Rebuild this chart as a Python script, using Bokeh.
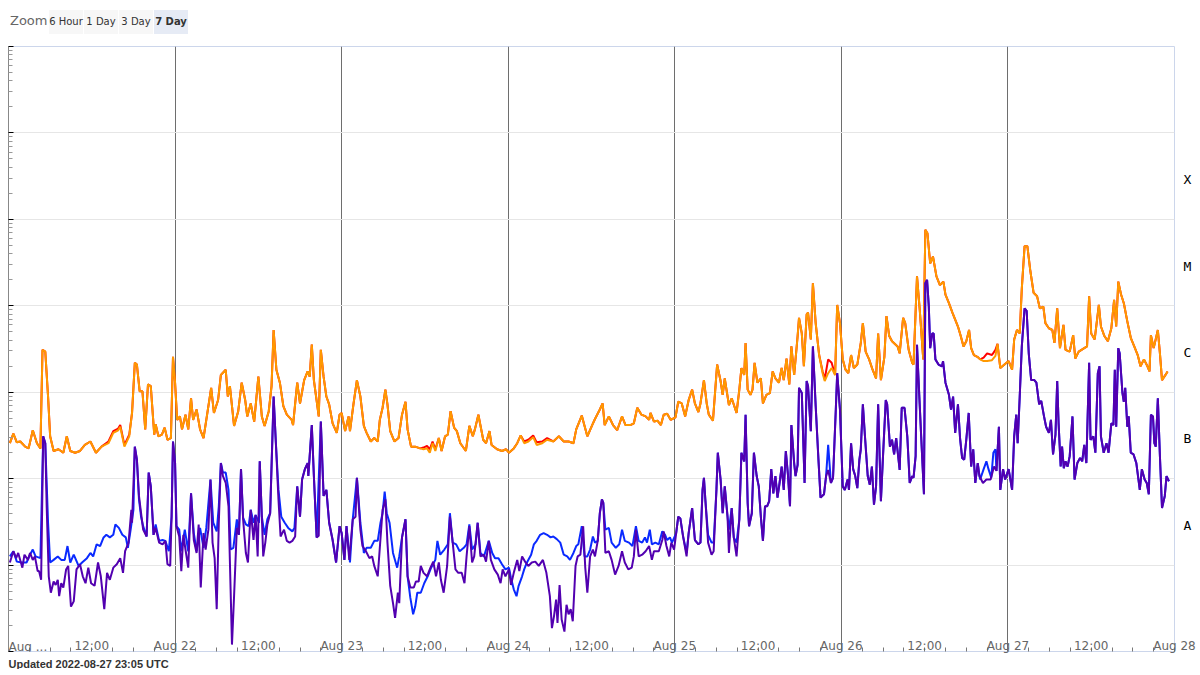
from bokeh.plotting import figure
from bokeh.models import Range1d, FixedTicker, Label, Div, CustomJSTickFormatter, Title, LogAxis
from bokeh.layouts import column
from bokeh.embed import file_html
from bokeh.resources import INLINE

# ---------------- data (hours since 2022-08-21 00:00 UTC, log10 flux W/m^2) -------------
long_primary = [
    (0.2, -6.59), (0.7, -6.48), (1.2, -6.58), (1.7, -6.57), (2.4, -6.63), (2.9, -6.65), (3.5, -6.44),
    (4.1, -6.59), (4.6, -6.65), (4.9, -5.51), (5.3, -5.53), (5.7, -6.05), (6.0, -6.51), (6.5, -6.68),
    (7.2, -6.66), (7.9, -6.70), (8.4, -6.51), (8.9, -6.68), (9.6, -6.70), (10.3, -6.68), (11.0, -6.61),
    (11.8, -6.57), (12.6, -6.70), (13.4, -6.63), (14.4, -6.59), (15.1, -6.47), (15.8, -6.44), (16.1, -6.40),
    (16.7, -6.63), (17.4, -6.51), (17.8, -6.24), (18.2, -5.66), (18.5, -5.68), (18.9, -5.99), (19.3, -5.99),
    (19.7, -6.43), (20.1, -5.91), (20.5, -5.93), (21.0, -6.49), (21.2, -6.37), (21.6, -6.51), (22.1, -6.49),
    (22.5, -6.41), (22.9, -6.55), (23.4, -6.53), (23.7, -5.59), (24.0, -5.89), (24.3, -6.32), (24.7, -6.28),
    (25.0, -6.43), (25.5, -6.26), (25.9, -6.43), (26.3, -6.07), (26.6, -6.32), (27.1, -6.20), (27.6, -6.43),
    (28.1, -6.53), (28.5, -6.32), (29.2, -5.95), (29.6, -6.24), (30.2, -6.09), (30.6, -5.80), (31.3, -5.74),
    (31.6, -6.05), (31.9, -5.93), (32.5, -6.39), (33.1, -6.22), (33.6, -5.89), (34.1, -6.09), (34.4, -6.28),
    (34.9, -6.13), (35.4, -6.34), (36.0, -5.82), (36.5, -6.28), (36.9, -6.39), (37.5, -6.22), (37.9, -5.93),
    (38.2, -5.28), (38.6, -5.74), (39.1, -5.89), (39.6, -6.16), (40.1, -6.26), (40.8, -6.32), (41.0, -6.38),
    (41.6, -5.89), (42.0, -6.13), (42.6, -5.86), (43.1, -5.76), (43.4, -5.82), (43.7, -5.45), (44.0, -5.86),
    (44.7, -6.28), (45.0, -5.51), (45.4, -5.82), (45.8, -6.05), (46.2, -6.14), (46.7, -6.36), (47.3, -6.47),
    (47.7, -6.26), (48.0, -6.24), (48.5, -6.45), (49.0, -6.28), (49.2, -6.45), (49.7, -6.14), (50.2, -5.86),
    (50.7, -6.05), (51.2, -6.39), (51.6, -6.47), (52.2, -6.57), (52.7, -6.53), (53.2, -6.57), (53.5, -6.32),
    (53.9, -6.18), (54.3, -5.97), (54.6, -6.14), (55.0, -6.45), (55.6, -6.57), (56.2, -6.53), (56.7, -6.26),
    (57.2, -6.11), (57.5, -6.43), (58.0, -6.63), (58.6, -6.63), (59.3, -6.65), (59.8, -6.66), (60.3, -6.65),
    (60.7, -6.70), (61.1, -6.59), (61.5, -6.68), (62.0, -6.53), (62.4, -6.68), (62.9, -6.51), (63.3, -6.49),
    (63.7, -6.22), (64.2, -6.41), (64.6, -6.45), (65.1, -6.59), (65.9, -6.68), (66.4, -6.39), (66.9, -6.51),
    (67.2, -6.43), (67.7, -6.26), (68.4, -6.55), (68.8, -6.59), (69.3, -6.45), (69.6, -6.61), (70.4, -6.66),
    (71.1, -6.68), (71.7, -6.66), (72.1, -6.70), (72.8, -6.65), (73.3, -6.59), (73.8, -6.50), (74.3, -6.59),
    (74.9, -6.57), (75.6, -6.52), (76.1, -6.61), (76.9, -6.59), (77.6, -6.55), (78.5, -6.57), (79.3, -6.51),
    (80.0, -6.57), (80.7, -6.57), (81.4, -6.59), (81.8, -6.43), (82.6, -6.27), (83.0, -6.39), (83.4, -6.51),
    (84.1, -6.38), (84.5, -6.31), (85.2, -6.20), (85.6, -6.13), (85.9, -6.38), (86.5, -6.28), (87.1, -6.38),
    (87.7, -6.44), (88.4, -6.28), (88.9, -6.38), (89.6, -6.38), (90.1, -6.36), (90.6, -6.18), (91.2, -6.26),
    (91.8, -6.28), (92.3, -6.32), (92.5, -6.24), (93.0, -6.34), (93.5, -6.33), (94.0, -6.38), (94.4, -6.26),
    (94.9, -6.25), (95.4, -6.32), (96.1, -6.29), (96.5, -6.11), (97.0, -6.13), (97.5, -6.28), (98.0, -6.09),
    (98.5, -5.97), (98.9, -6.13), (99.4, -6.23), (99.7, -6.13), (100.2, -5.86), (100.6, -6.13), (100.9, -6.26),
    (101.5, -6.33), (102.1, -5.68), (102.6, -5.87), (102.9, -6.03), (103.2, -5.84), (103.8, -6.15), (104.2, -6.07),
    (104.9, -6.24), (105.3, -5.97), (105.6, -5.72), (106.0, -5.80), (106.2, -5.43), (106.5, -5.97), (106.9, -6.03),
    (107.2, -5.97), (107.5, -5.66), (107.9, -5.89), (108.4, -5.84), (108.7, -6.13), (109.2, -6.03), (109.7, -6.01),
    (110.1, -5.76), (110.5, -5.84), (111.0, -5.89), (111.4, -5.72), (111.7, -5.86), (112.1, -5.61), (112.5, -5.91),
    (112.8, -5.47), (113.2, -5.80), (113.7, -5.35), (113.9, -5.14), (114.3, -5.32), (114.6, -5.70), (115.0, -5.10),
    (115.2, -5.08), (115.6, -5.39), (115.9, -4.74), (116.3, -5.20), (116.8, -5.57), (117.3, -5.78), (117.6, -5.87),
    (118.1, -5.78), (118.6, -5.72), (119.1, -5.80), (119.4, -4.99), (119.8, -5.20), (120.2, -5.62), (120.6, -5.74),
    (121.0, -5.78), (121.4, -5.57), (121.8, -5.72), (122.3, -5.68), (122.8, -5.43), (123.1, -5.20), (123.5, -5.53),
    (124.0, -5.62), (124.5, -5.74), (125.0, -5.84), (125.3, -5.32), (125.7, -5.86), (126.2, -5.59), (126.5, -5.12),
    (126.9, -5.35), (127.3, -5.41), (128.1, -5.47), (128.4, -5.55), (128.9, -5.14), (129.2, -5.20), (129.7, -5.51),
    (130.2, -5.66), (130.4, -5.68), (130.9, -4.66), (131.3, -5.05), (131.8, -5.62), (132.1, -4.12), (132.4, -4.16),
    (132.8, -4.51), (133.2, -4.43), (133.7, -4.66), (134.2, -4.76), (134.7, -4.72), (135.0, -4.87), (135.5, -4.97),
    (136.0, -5.08), (136.3, -5.14), (136.8, -5.24), (137.2, -5.35), (137.6, -5.47), (138.0, -5.41), (138.4, -5.28),
    (138.7, -5.49), (139.1, -5.57), (139.6, -5.59), (140.0, -5.62), (140.5, -5.64), (141.0, -5.64), (141.7, -5.63),
    (142.2, -5.58), (142.5, -5.44), (142.9, -5.72), (143.5, -5.68), (144.1, -5.64), (144.6, -5.74), (144.9, -5.39),
    (145.3, -5.28), (145.7, -5.32), (146.0, -4.80), (146.4, -4.31), (146.8, -4.31), (147.2, -4.58), (147.7, -4.85),
    (148.2, -4.89), (148.6, -5.03), (149.1, -5.01), (149.4, -5.20), (149.9, -5.26), (150.4, -5.28), (150.7, -5.43),
    (151.1, -5.03), (151.5, -5.49), (152.0, -5.22), (152.3, -5.51), (152.9, -5.53), (153.4, -5.34), (153.7, -5.61),
    (154.2, -5.53), (155.0, -5.49), (155.4, -5.47), (155.7, -4.89), (156.0, -5.32), (156.5, -5.39), (157.1, -4.99),
    (157.4, -5.24), (157.9, -5.35), (158.4, -5.41), (158.9, -5.26), (159.3, -4.93), (159.6, -5.24), (159.9, -4.72),
    (160.3, -4.87), (160.7, -4.97), (161.2, -5.18), (161.7, -5.37), (162.2, -5.47), (162.7, -5.57), (163.1, -5.70),
    (163.6, -5.62), (164.1, -5.70), (164.4, -5.76), (164.6, -5.34), (165.0, -5.49), (165.6, -5.28), (165.9, -5.55),
    (166.2, -5.86), (166.7, -5.80), (167.0, -5.76),
]

long_secondary = [
    (0.2, -6.59), (0.7, -6.48), (1.2, -6.58), (1.7, -6.57), (2.4, -6.63), (2.9, -6.65), (3.5, -6.44),
    (4.1, -6.59), (4.6, -6.65), (4.9, -5.51), (5.3, -5.53), (5.7, -6.05), (6.0, -6.51), (6.5, -6.68),
    (7.2, -6.66), (7.9, -6.70), (8.4, -6.51), (8.9, -6.68), (9.6, -6.70), (10.3, -6.68), (11.0, -6.61),
    (11.8, -6.57), (12.6, -6.70), (13.4, -6.63), (14.4, -6.57), (15.1, -6.45), (15.8, -6.42), (16.1, -6.38),
    (16.7, -6.61), (17.4, -6.49), (17.8, -6.24), (18.2, -5.66), (18.5, -5.68), (18.9, -5.99), (19.3, -5.99),
    (19.7, -6.43), (20.1, -5.91), (20.5, -5.93), (21.0, -6.49), (21.2, -6.37), (21.6, -6.51), (22.1, -6.49),
    (22.5, -6.41), (22.9, -6.55), (23.4, -6.53), (23.7, -5.59), (24.0, -5.89), (24.3, -6.32), (24.7, -6.28),
    (25.0, -6.43), (25.5, -6.26), (25.9, -6.43), (26.3, -6.07), (26.6, -6.32), (27.1, -6.20), (27.6, -6.43),
    (28.1, -6.53), (28.5, -6.32), (29.2, -5.95), (29.6, -6.24), (30.2, -6.09), (30.6, -5.80), (31.3, -5.74),
    (31.6, -6.05), (31.9, -5.93), (32.5, -6.39), (33.1, -6.22), (33.6, -5.89), (34.1, -6.09), (34.4, -6.28),
    (34.9, -6.13), (35.4, -6.34), (36.0, -5.82), (36.5, -6.28), (36.9, -6.39), (37.5, -6.22), (37.9, -5.93),
    (38.2, -5.28), (38.6, -5.74), (39.1, -5.89), (39.6, -6.16), (40.1, -6.26), (40.8, -6.32), (41.0, -6.38),
    (41.6, -5.89), (42.0, -6.13), (42.6, -5.86), (43.1, -5.76), (43.4, -5.82), (43.7, -5.45), (44.0, -5.86),
    (44.7, -6.28), (45.0, -5.51), (45.4, -5.82), (45.8, -6.05), (46.2, -6.14), (46.7, -6.36), (47.3, -6.47),
    (47.7, -6.26), (48.0, -6.24), (48.5, -6.45), (49.0, -6.28), (49.2, -6.45), (49.7, -6.14), (50.2, -5.86),
    (50.7, -6.05), (51.2, -6.39), (51.6, -6.47), (52.2, -6.57), (52.7, -6.53), (53.2, -6.57), (53.5, -6.32),
    (53.9, -6.18), (54.3, -5.97), (54.6, -6.14), (55.0, -6.45), (55.6, -6.57), (56.2, -6.53), (56.7, -6.26),
    (57.2, -6.11), (57.5, -6.43), (58.0, -6.63), (58.6, -6.63), (59.3, -6.65), (59.8, -6.64), (60.3, -6.62),
    (60.7, -6.66), (61.1, -6.57), (61.5, -6.66), (62.0, -6.53), (62.4, -6.68), (62.9, -6.51), (63.3, -6.49),
    (63.7, -6.22), (64.2, -6.41), (64.6, -6.45), (65.1, -6.59), (65.9, -6.68), (66.4, -6.39), (66.9, -6.51),
    (67.2, -6.43), (67.7, -6.26), (68.4, -6.55), (68.8, -6.59), (69.3, -6.45), (69.6, -6.61), (70.4, -6.66),
    (71.1, -6.68), (71.7, -6.66), (72.1, -6.70), (72.8, -6.65), (73.3, -6.59), (73.8, -6.50), (74.3, -6.57),
    (74.9, -6.55), (75.6, -6.50), (76.1, -6.58), (76.9, -6.57), (77.6, -6.53), (78.5, -6.57), (79.3, -6.51),
    (80.0, -6.57), (80.7, -6.57), (81.4, -6.59), (81.8, -6.43), (82.6, -6.27), (83.0, -6.39), (83.4, -6.51),
    (84.1, -6.38), (84.5, -6.31), (85.2, -6.20), (85.6, -6.13), (85.9, -6.38), (86.5, -6.28), (87.1, -6.38),
    (87.7, -6.44), (88.4, -6.28), (88.9, -6.38), (89.6, -6.38), (90.1, -6.36), (90.6, -6.18), (91.2, -6.26),
    (91.8, -6.28), (92.3, -6.32), (92.5, -6.24), (93.0, -6.34), (93.5, -6.33), (94.0, -6.38), (94.4, -6.26),
    (94.9, -6.25), (95.4, -6.32), (96.1, -6.29), (96.5, -6.11), (97.0, -6.13), (97.5, -6.28), (98.0, -6.09),
    (98.5, -5.97), (98.9, -6.13), (99.4, -6.23), (99.7, -6.13), (100.2, -5.86), (100.6, -6.13), (100.9, -6.26),
    (101.5, -6.33), (102.1, -5.68), (102.6, -5.87), (102.9, -6.03), (103.2, -5.84), (103.8, -6.15), (104.2, -6.07),
    (104.9, -6.24), (105.3, -5.97), (105.6, -5.72), (106.0, -5.80), (106.2, -5.43), (106.5, -5.97), (106.9, -6.03),
    (107.2, -5.97), (107.5, -5.66), (107.9, -5.89), (108.4, -5.84), (108.7, -6.13), (109.2, -6.03), (109.7, -6.01),
    (110.1, -5.76), (110.5, -5.84), (111.0, -5.89), (111.4, -5.72), (111.7, -5.86), (112.1, -5.61), (112.5, -5.91),
    (112.8, -5.47), (113.2, -5.80), (113.7, -5.35), (113.9, -5.14), (114.3, -5.32), (114.6, -5.70), (115.0, -5.10),
    (115.2, -5.08), (115.6, -5.39), (115.9, -4.74), (116.3, -5.20), (116.8, -5.57), (117.3, -5.76), (117.6, -5.85),
    (118.1, -5.62), (118.6, -5.66), (119.1, -5.80), (119.4, -4.99), (119.8, -5.20), (120.2, -5.62), (120.6, -5.74),
    (121.0, -5.78), (121.4, -5.57), (121.8, -5.72), (122.3, -5.68), (122.8, -5.43), (123.1, -5.20), (123.5, -5.53),
    (124.0, -5.62), (124.5, -5.74), (125.0, -5.84), (125.3, -5.32), (125.7, -5.86), (126.2, -5.59), (126.5, -5.12),
    (126.9, -5.35), (127.3, -5.41), (128.1, -5.47), (128.4, -5.55), (128.9, -5.14), (129.2, -5.20), (129.7, -5.51),
    (130.2, -5.66), (130.4, -5.68), (130.9, -4.66), (131.3, -5.05), (131.8, -5.62), (132.1, -4.12), (132.4, -4.16),
    (132.8, -4.51), (133.2, -4.43), (133.7, -4.66), (134.2, -4.76), (134.7, -4.72), (135.0, -4.87), (135.5, -4.97),
    (136.0, -5.08), (136.3, -5.14), (136.8, -5.24), (137.2, -5.35), (137.6, -5.47), (138.0, -5.41), (138.4, -5.28),
    (138.7, -5.49), (139.1, -5.57), (139.6, -5.59), (140.0, -5.62), (140.5, -5.60), (141.0, -5.55), (141.7, -5.57),
    (142.2, -5.51), (142.5, -5.44), (142.9, -5.72), (143.5, -5.68), (144.1, -5.64), (144.6, -5.74), (144.9, -5.39),
    (145.3, -5.28), (145.7, -5.32), (146.0, -4.80), (146.4, -4.31), (146.8, -4.31), (147.2, -4.58), (147.7, -4.85),
    (148.2, -4.89), (148.6, -5.03), (149.1, -5.01), (149.4, -5.20), (149.9, -5.26), (150.4, -5.28), (150.7, -5.43),
    (151.1, -5.03), (151.5, -5.49), (152.0, -5.22), (152.3, -5.51), (152.9, -5.53), (153.4, -5.34), (153.7, -5.61),
    (154.2, -5.53), (155.0, -5.49), (155.4, -5.47), (155.7, -4.89), (156.0, -5.32), (156.5, -5.39), (157.1, -4.99),
    (157.4, -5.24), (157.9, -5.35), (158.4, -5.41), (158.9, -5.26), (159.3, -4.93), (159.6, -5.24), (159.9, -4.72),
    (160.3, -4.87), (160.7, -4.97), (161.2, -5.18), (161.7, -5.37), (162.2, -5.47), (162.7, -5.57), (163.1, -5.70),
    (163.6, -5.62), (164.1, -5.70), (164.4, -5.76), (164.6, -5.34), (165.0, -5.49), (165.6, -5.28), (165.9, -5.55),
    (166.2, -5.86), (166.7, -5.80), (167.0, -5.76),
]

short_primary = [
    (0.2, -7.97), (0.7, -7.84), (1.1, -7.92), (1.4, -7.86), (2.0, -8.03), (2.3, -7.88), (2.8, -7.94),
    (3.1, -7.86), (3.5, -7.94), (3.8, -7.90), (4.2, -8.07), (4.4, -8.07), (4.7, -8.17), (5.0, -6.51),
    (5.3, -6.59), (5.5, -7.32), (5.8, -8.13), (6.1, -8.32), (6.5, -8.19), (6.8, -8.23), (7.1, -8.17),
    (7.3, -8.36), (7.6, -8.21), (7.9, -8.26), (8.3, -8.05), (8.6, -8.01), (9.0, -8.48), (9.4, -8.42),
    (9.8, -8.05), (10.3, -7.99), (10.7, -8.13), (11.1, -8.21), (11.5, -8.03), (11.9, -8.21), (12.4, -8.24),
    (12.9, -7.97), (13.3, -8.13), (13.8, -8.51), (14.2, -8.09), (14.6, -8.17), (15.1, -8.03), (15.6, -7.99),
    (16.1, -7.92), (16.5, -8.09), (16.8, -7.84), (17.3, -7.74), (17.7, -7.36), (17.8, -7.51), (18.2, -6.63),
    (18.5, -6.78), (18.8, -7.20), (19.1, -7.40), (19.4, -7.59), (19.9, -7.67), (20.2, -6.93), (20.5, -7.09),
    (20.9, -7.65), (21.2, -7.57), (21.7, -7.74), (22.2, -7.76), (22.6, -7.72), (22.9, -7.99), (23.3, -8.01),
    (23.5, -7.44), (23.7, -6.57), (24.0, -6.82), (24.2, -7.55), (24.6, -7.67), (24.9, -8.07), (25.2, -7.65),
    (25.5, -7.82), (25.9, -8.03), (26.3, -7.17), (26.7, -7.71), (27.1, -7.86), (27.4, -7.53), (27.7, -8.26),
    (28.1, -7.63), (28.4, -7.82), (28.8, -7.59), (29.1, -7.01), (29.4, -7.74), (29.7, -7.92), (30.0, -8.51),
    (30.3, -7.51), (30.6, -6.82), (30.9, -6.97), (31.3, -7.05), (31.7, -7.32), (32.0, -8.28), (32.2, -8.92),
    (32.5, -8.36), (32.9, -7.57), (33.2, -7.65), (33.5, -6.89), (33.8, -7.47), (34.2, -7.86), (34.5, -7.97),
    (34.9, -7.36), (35.3, -7.71), (35.6, -7.42), (35.9, -7.90), (36.2, -6.80), (36.5, -7.44), (36.7, -7.90),
    (37.0, -7.74), (37.3, -7.53), (37.7, -7.40), (38.0, -6.59), (38.2, -6.05), (38.5, -6.55), (38.9, -7.24),
    (39.2, -7.67), (39.7, -7.59), (40.1, -7.72), (40.5, -7.74), (40.9, -7.72), (41.3, -7.67), (41.6, -7.09),
    (42.0, -7.44), (42.3, -7.01), (42.7, -6.89), (43.1, -6.82), (43.2, -6.97), (43.7, -6.38), (44.0, -6.97),
    (44.4, -7.68), (44.7, -7.66), (45.0, -6.34), (45.4, -7.20), (45.8, -7.13), (46.2, -7.51), (46.7, -7.71),
    (47.2, -7.97), (47.7, -7.55), (48.0, -7.63), (48.4, -7.94), (48.7, -7.55), (49.1, -7.94), (49.6, -7.47),
    (50.0, -7.44), (50.2, -6.99), (50.7, -7.59), (51.0, -7.78), (51.5, -7.84), (52.0, -7.92), (52.4, -7.90),
    (52.7, -8.01), (53.2, -8.13), (53.5, -7.80), (53.9, -7.36), (54.3, -7.24), (54.6, -7.74), (55.0, -8.24),
    (55.4, -8.44), (55.7, -8.61), (56.1, -8.32), (56.3, -8.44), (56.7, -7.68), (57.2, -7.47), (57.5, -8.13),
    (57.9, -8.26), (58.4, -8.26), (58.7, -8.19), (59.1, -8.19), (59.4, -8.01), (59.8, -8.09), (60.3, -8.13),
    (60.8, -8.03), (61.2, -7.96), (61.6, -8.13), (62.0, -7.97), (62.3, -8.17), (62.7, -8.32), (63.2, -8.01),
    (63.6, -7.44), (64.0, -7.74), (64.4, -8.05), (64.8, -8.09), (65.3, -8.09), (65.7, -8.21), (66.0, -7.90),
    (66.4, -7.55), (66.8, -7.97), (67.1, -7.90), (67.6, -7.51), (68.0, -7.90), (68.5, -7.88), (68.8, -7.96),
    (69.2, -7.72), (69.5, -7.94), (70.0, -8.05), (70.5, -8.11), (70.9, -8.21), (71.2, -8.05), (71.6, -8.13),
    (72.1, -8.05), (72.4, -8.23), (72.8, -8.09), (73.3, -7.94), (73.6, -8.07), (74.0, -7.90), (74.5, -7.97),
    (74.9, -8.01), (75.4, -7.97), (75.9, -7.96), (76.4, -8.01), (77.0, -7.94), (77.5, -8.09), (78.0, -8.36),
    (78.3, -8.73), (78.6, -8.59), (78.9, -8.40), (79.1, -8.67), (79.4, -8.23), (79.7, -8.63), (80.1, -8.77),
    (80.4, -8.46), (80.7, -8.57), (81.0, -8.51), (81.3, -8.65), (81.7, -8.01), (82.0, -7.90), (82.4, -7.88),
    (82.8, -7.55), (83.1, -8.03), (83.4, -8.32), (83.8, -7.90), (84.2, -7.82), (84.5, -7.90), (84.9, -7.72),
    (85.2, -7.40), (85.5, -7.24), (85.7, -7.28), (86.0, -7.86), (86.5, -7.84), (86.9, -7.94), (87.4, -8.11),
    (87.9, -8.01), (88.4, -7.84), (88.8, -7.97), (89.3, -8.05), (89.8, -8.03), (90.1, -7.90), (90.4, -7.59),
    (90.8, -7.90), (91.3, -7.88), (91.8, -7.84), (92.3, -7.78), (92.7, -7.94), (93.0, -7.84), (93.7, -7.84),
    (94.2, -7.71), (94.4, -7.61), (94.8, -7.78), (95.2, -7.90), (95.5, -7.74), (95.9, -7.82), (96.2, -7.63),
    (96.5, -7.44), (96.8, -7.46), (97.2, -7.67), (97.7, -7.90), (98.0, -7.63), (98.5, -7.34), (98.9, -7.71),
    (99.4, -7.76), (99.7, -7.74), (100.0, -7.13), (100.2, -6.99), (100.4, -7.24), (100.8, -7.74), (101.3, -7.88),
    (101.6, -7.84), (102.0, -7.13), (102.2, -6.70), (102.6, -7.01), (102.9, -7.40), (103.2, -7.09), (103.6, -7.44),
    (103.8, -7.86), (104.2, -7.34), (104.5, -7.68), (104.9, -7.90), (105.3, -7.47), (105.6, -6.70), (106.0, -6.80),
    (106.2, -6.26), (106.5, -7.28), (106.7, -7.55), (107.1, -7.40), (107.4, -6.70), (107.8, -6.97), (108.1, -7.09),
    (108.4, -7.44), (108.7, -7.72), (109.0, -7.32), (109.3, -7.32), (109.6, -7.26), (109.9, -6.89), (110.2, -7.17),
    (110.5, -6.97), (110.8, -7.22), (111.1, -7.05), (111.4, -6.86), (111.7, -7.13), (112.0, -6.68), (112.3, -6.95),
    (112.6, -7.32), (112.8, -6.38), (113.2, -6.82), (113.4, -6.97), (113.7, -6.84), (113.9, -5.95), (114.3, -6.01),
    (114.7, -7.05), (115.0, -5.87), (115.2, -5.93), (115.6, -6.45), (115.9, -5.47), (116.3, -6.16), (116.7, -6.78),
    (117.0, -7.22), (117.5, -7.18), (117.8, -6.97), (118.1, -6.90), (118.5, -7.05), (118.8, -6.99), (119.2, -6.20),
    (119.4, -5.78), (119.8, -6.20), (120.2, -7.09), (120.5, -7.13), (120.9, -7.01), (121.1, -7.13), (121.4, -6.59),
    (121.7, -6.89), (122.0, -6.97), (122.3, -7.11), (122.6, -6.78), (122.8, -6.66), (123.1, -6.14), (123.4, -6.51),
    (123.8, -6.97), (124.1, -7.07), (124.4, -6.86), (124.7, -7.30), (125.0, -7.09), (125.3, -6.14), (125.7, -7.26),
    (126.0, -6.74), (126.4, -6.09), (126.6, -6.14), (127.0, -6.63), (127.3, -6.55), (127.6, -6.72), (127.9, -6.53),
    (128.4, -6.90), (128.7, -6.18), (129.1, -6.18), (129.5, -6.51), (129.85, -7.05), (130.2, -6.97), (130.4, -6.99),
    (130.7, -6.74), (130.9, -5.45), (131.1, -5.82), (131.5, -6.51), (131.9, -7.18), (132.1, -4.74), (132.35, -4.70),
    (132.6, -5.01), (132.8, -5.49), (133.1, -5.32), (133.3, -5.32), (133.55, -5.62), (134.0, -5.68), (134.5, -5.70),
    (134.65, -5.64), (135.0, -5.89), (135.5, -6.03), (135.8, -6.20), (136.1, -6.05), (136.4, -6.47), (136.8, -6.14),
    (137.1, -6.53), (137.4, -6.76), (137.7, -6.78), (138.0, -6.55), (138.35, -6.24), (138.7, -6.86), (139.0, -6.66),
    (139.3, -7.05), (139.65, -6.82), (139.9, -6.97), (140.4, -7.05), (140.9, -7.01), (141.5, -7.01), (142.0, -6.86),
    (142.35, -6.91), (142.7, -6.40), (142.9, -7.13), (143.3, -6.89), (143.6, -7.01), (144.1, -6.89), (144.6, -7.13),
    (144.9, -6.51), (145.2, -6.26), (145.4, -6.59), (145.7, -6.05), (146.0, -5.47), (146.4, -5.03), (146.7, -5.06),
    (147.0, -5.55), (147.35, -5.86), (147.8, -5.86), (148.1, -5.89), (148.5, -6.14), (148.8, -6.10), (149.2, -6.28),
    (149.5, -6.40), (149.9, -6.47), (150.2, -6.32), (150.5, -6.72), (150.85, -6.49), (151.1, -5.87), (151.3, -6.36),
    (151.6, -6.86), (151.8, -6.63), (152.05, -6.88), (152.3, -6.80), (152.6, -6.86), (152.9, -6.74), (153.3, -6.28),
    (153.6, -7.01), (154.0, -6.82), (154.4, -6.76), (154.7, -6.80), (155.0, -6.61), (155.3, -6.82), (155.7, -5.66),
    (155.9, -6.55), (156.3, -6.51), (156.6, -6.70), (156.95, -5.78), (157.2, -5.70), (157.4, -6.51), (157.8, -6.70),
    (158.2, -6.59), (158.5, -6.70), (158.9, -6.36), (159.2, -6.38), (159.4, -5.74), (159.6, -6.40), (159.9, -5.49),
    (160.1, -5.55), (160.5, -6.01), (160.7, -6.11), (160.9, -5.95), (161.2, -6.40), (161.4, -6.28), (161.7, -6.70),
    (162.1, -6.72), (162.5, -6.82), (163.0, -7.13), (163.3, -6.89), (163.7, -7.01), (164.0, -7.05), (164.3, -7.18),
    (164.6, -6.26), (164.9, -6.28), (165.1, -6.59), (165.3, -6.63), (165.6, -6.07), (165.9, -6.74), (166.2, -7.34),
    (166.6, -7.20), (166.85, -6.97), (167.2, -7.03),
]

short_secondary = [
    (0.2, -7.90), (0.7, -7.84), (1.2, -7.96), (1.9, -7.97), (2.6, -7.97), (3.1, -7.88), (3.5, -7.82),
    (3.9, -7.90), (4.6, -7.92), (5.0, -6.51), (5.3, -6.59), (5.7, -7.51), (6.0, -7.97), (6.5, -7.94),
    (7.1, -7.90), (7.6, -7.94), (8.1, -7.94), (8.5, -7.78), (8.9, -7.97), (9.4, -7.88), (10.1, -8.01),
    (10.6, -7.97), (11.3, -7.92), (11.8, -7.86), (12.2, -7.90), (12.7, -7.76), (13.2, -7.78), (13.7, -7.68),
    (14.1, -7.65), (14.6, -7.68), (15.1, -7.65), (15.4, -7.53), (15.9, -7.57), (16.4, -7.65), (16.9, -7.68),
    (17.2, -7.80), (17.6, -7.59), (18.0, -7.36), (18.2, -6.63), (18.5, -6.78), (18.8, -7.24), (19.1, -7.44),
    (19.4, -7.55), (19.9, -7.67), (20.2, -6.93), (20.5, -7.09), (20.9, -7.65), (21.2, -7.53), (21.7, -7.72),
    (22.2, -7.71), (22.6, -7.72), (23.1, -7.84), (23.5, -7.44), (23.7, -6.57), (24.0, -6.82), (24.2, -7.55),
    (24.6, -7.59), (24.9, -7.84), (25.4, -7.59), (25.9, -7.84), (26.3, -7.17), (26.7, -7.63), (27.1, -7.84),
    (27.6, -7.57), (28.1, -7.80), (28.5, -7.57), (29.1, -7.01), (29.5, -7.51), (30.0, -7.61), (30.3, -7.32),
    (30.6, -6.82), (30.9, -6.93), (31.3, -6.93), (31.7, -7.13), (32.0, -7.82), (32.4, -7.80), (32.9, -7.47),
    (33.2, -7.65), (33.5, -6.89), (33.8, -7.45), (34.2, -7.53), (34.6, -7.55), (34.9, -7.36), (35.3, -7.51),
    (35.6, -7.42), (36.1, -7.51), (36.2, -6.80), (36.5, -7.44), (36.9, -7.65), (37.3, -7.47), (37.7, -7.40),
    (38.0, -6.59), (38.2, -6.05), (38.5, -6.55), (38.9, -7.13), (39.3, -7.44), (39.8, -7.51), (40.3, -7.57),
    (40.9, -7.61), (41.2, -7.57), (41.6, -7.09), (42.0, -7.44), (42.3, -7.01), (42.7, -6.89), (43.1, -6.82),
    (43.2, -6.97), (43.7, -6.38), (44.0, -6.97), (44.4, -7.68), (45.0, -6.34), (45.4, -7.20), (45.8, -7.13),
    (46.2, -7.51), (46.7, -7.71), (47.2, -7.97), (47.7, -7.55), (48.0, -7.63), (48.4, -7.94), (48.7, -7.55),
    (49.2, -7.97), (49.6, -7.47), (50.2, -6.99), (50.7, -7.51), (51.2, -7.86), (51.6, -7.80), (52.2, -7.80),
    (52.7, -7.72), (53.2, -7.72), (53.6, -7.51), (53.9, -7.40), (54.2, -7.15), (54.5, -7.40), (54.9, -7.51),
    (55.4, -7.86), (56.0, -8.03), (56.3, -7.90), (56.7, -7.68), (57.2, -7.47), (57.5, -8.13), (57.9, -8.38),
    (58.3, -8.57), (58.6, -8.48), (58.9, -8.32), (59.4, -8.32), (59.9, -8.21), (60.4, -8.13), (60.9, -8.03),
    (61.5, -7.94), (61.8, -7.72), (62.2, -7.88), (62.8, -7.82), (63.3, -7.76), (63.6, -7.40), (64.0, -7.74),
    (64.5, -7.76), (65.0, -7.84), (65.6, -7.80), (66.0, -7.76), (66.4, -7.53), (66.8, -7.82), (67.3, -7.76),
    (67.6, -7.51), (68.0, -7.86), (68.5, -7.90), (69.2, -7.72), (69.7, -7.86), (70.1, -7.92), (70.6, -7.92),
    (71.1, -7.99), (71.6, -8.05), (72.1, -8.03), (72.4, -8.15), (72.8, -8.28), (73.2, -8.36), (73.5, -8.24),
    (74.0, -8.13), (74.3, -8.05), (74.7, -7.97), (75.3, -7.88), (75.7, -7.76), (76.1, -7.72), (76.6, -7.65),
    (77.1, -7.63), (77.6, -7.65), (78.1, -7.68), (78.5, -7.67), (79.0, -7.70), (79.5, -7.74), (80.0, -7.88),
    (80.5, -7.90), (80.9, -7.94), (81.4, -7.86), (81.8, -7.78), (82.1, -7.76), (82.6, -7.55), (83.0, -7.90),
    (83.4, -7.90), (83.8, -7.82), (84.2, -7.67), (84.5, -7.74), (84.9, -7.72), (85.2, -7.40), (85.5, -7.24),
    (85.7, -7.28), (86.0, -7.59), (86.5, -7.57), (86.9, -7.74), (87.5, -7.80), (88.0, -7.76), (88.4, -7.59),
    (88.8, -7.72), (89.4, -7.74), (89.9, -7.78), (90.4, -7.55), (90.8, -7.72), (91.3, -7.74), (91.7, -7.68),
    (92.0, -7.74), (92.4, -7.59), (92.7, -7.76), (93.2, -7.74), (93.7, -7.76), (94.2, -7.61), (94.6, -7.65),
    (94.9, -7.71), (95.3, -7.68), (95.6, -7.74), (96.2, -7.63), (96.5, -7.44), (96.8, -7.46), (97.2, -7.67),
    (97.7, -7.86), (98.0, -7.63), (98.5, -7.34), (98.9, -7.71), (99.4, -7.76), (99.7, -7.74), (100.0, -7.13),
    (100.2, -6.99), (100.4, -7.24), (100.8, -7.65), (101.3, -7.74), (101.6, -7.74), (102.0, -7.13), (102.2, -6.70),
    (102.6, -7.01), (102.9, -7.40), (103.2, -7.09), (103.6, -7.44), (103.8, -7.59), (104.2, -7.34), (104.5, -7.68),
    (104.9, -7.74), (105.3, -7.47), (105.6, -6.70), (106.0, -6.80), (106.2, -6.26), (106.5, -7.28), (106.7, -7.55),
    (107.1, -7.40), (107.4, -6.70), (107.8, -6.97), (108.1, -7.09), (108.4, -7.44), (108.7, -7.72), (109.0, -7.32),
    (109.3, -7.32), (109.6, -7.26), (109.9, -6.89), (110.2, -7.17), (110.5, -6.97), (110.8, -7.22), (111.1, -7.05),
    (111.4, -6.86), (111.7, -7.13), (112.0, -6.68), (112.3, -6.95), (112.6, -7.32), (112.8, -6.38), (113.2, -6.82),
    (113.4, -6.97), (113.7, -6.84), (113.9, -5.95), (114.3, -6.01), (114.7, -7.05), (115.0, -5.87), (115.2, -5.93),
    (115.6, -6.45), (115.9, -5.47), (116.3, -6.16), (116.7, -6.78), (117.0, -7.22), (117.5, -7.18), (117.8, -6.97),
    (118.1, -6.61), (118.5, -7.05), (118.8, -6.99), (119.2, -6.20), (119.4, -5.78), (119.8, -6.20), (120.2, -7.09),
    (120.5, -7.13), (120.9, -7.01), (121.1, -7.13), (121.4, -6.59), (121.7, -6.89), (122.0, -6.97), (122.3, -7.11),
    (122.6, -6.78), (122.8, -6.66), (123.1, -6.14), (123.4, -6.51), (123.8, -6.97), (124.1, -7.07), (124.4, -6.86),
    (124.7, -7.30), (125.0, -7.09), (125.3, -6.14), (125.7, -7.26), (126.0, -6.74), (126.4, -6.09), (126.6, -6.14),
    (127.0, -6.63), (127.3, -6.55), (127.6, -6.72), (127.9, -6.53), (128.4, -6.90), (128.7, -6.18), (129.1, -6.18),
    (129.5, -6.51), (129.85, -7.05), (130.2, -6.97), (130.4, -6.99), (130.7, -6.74), (130.9, -5.45), (131.1, -5.82),
    (131.5, -6.51), (131.9, -7.18), (132.1, -4.74), (132.35, -4.70), (132.6, -5.01), (132.8, -5.49), (133.1, -5.32),
    (133.3, -5.32), (133.55, -5.62), (134.0, -5.68), (134.5, -5.70), (134.65, -5.64), (135.0, -5.89), (135.5, -6.03),
    (135.8, -6.20), (136.1, -6.05), (136.4, -6.47), (136.8, -6.14), (137.1, -6.53), (137.4, -6.76), (137.7, -6.78),
    (138.0, -6.55), (138.35, -6.24), (138.7, -6.86), (139.0, -6.66), (139.3, -7.05), (139.65, -6.82), (139.9, -6.97),
    (140.0, -7.01), (140.5, -6.89), (140.9, -6.80), (141.2, -6.89), (141.6, -6.99), (141.9, -6.70), (142.2, -6.66),
    (142.35, -6.91), (142.7, -6.40), (142.9, -7.13), (143.3, -6.89), (143.6, -7.01), (144.1, -6.89), (144.6, -7.13),
    (144.9, -6.51), (145.2, -6.26), (145.4, -6.59), (145.7, -6.05), (146.0, -5.47), (146.4, -5.03), (146.7, -5.06),
    (147.0, -5.55), (147.35, -5.86), (147.8, -5.86), (148.1, -5.89), (148.5, -6.14), (148.8, -6.10), (149.2, -6.28),
    (149.5, -6.40), (149.9, -6.47), (150.2, -6.32), (150.5, -6.72), (150.85, -6.49), (151.1, -5.87), (151.3, -6.36),
    (151.6, -6.86), (151.8, -6.63), (152.05, -6.88), (152.3, -6.80), (152.6, -6.86), (152.9, -6.74), (153.3, -6.28),
    (153.6, -7.01), (154.0, -6.82), (154.4, -6.76), (154.7, -6.80), (155.0, -6.61), (155.3, -6.82), (155.7, -5.66),
    (155.9, -6.55), (156.3, -6.51), (156.6, -6.70), (156.95, -5.78), (157.2, -5.70), (157.4, -6.51), (157.8, -6.70),
    (158.2, -6.59), (158.5, -6.70), (158.9, -6.36), (159.2, -6.38), (159.4, -5.74), (159.6, -6.40), (159.9, -5.49),
    (160.1, -5.55), (160.5, -6.01), (160.7, -6.11), (160.9, -5.95), (161.2, -6.40), (161.4, -6.28), (161.7, -6.70),
    (162.1, -6.72), (162.5, -6.82), (163.0, -7.13), (163.3, -6.89), (163.7, -7.01), (164.0, -7.05), (164.3, -7.18),
    (164.6, -6.26), (164.9, -6.28), (165.1, -6.59), (165.3, -6.63), (165.6, -6.07), (165.9, -6.74), (166.2, -7.34),
    (166.6, -7.20), (166.85, -6.97), (167.2, -7.03),
]

day_labels = ["Aug 22", "Aug 23", "Aug 24", "Aug 25", "Aug 26", "Aug 27", "Aug 28"]
first_label = "Aug ..."
noon_label = "12:00"
class_letters = ["A", "B", "C", "M", "X"]
class_floor_log10 = [-8, -7, -6, -5, -4]
zoom_buttons = ["6 Hour", "1 Day", "3 Day", "7 Day"]
updated_text = "Updated 2022-08-27 23:05 UTC"


def split(pairs):
    return [a for a, _ in pairs], [10.0 ** b for _, b in pairs]


# ---------------- figure -------------
p = figure(width=1196, height=629, x_range=Range1d(0, 168), y_range=Range1d(1e-9, 1e-2),
           y_axis_type="log", output_backend="svg", toolbar_location=None,
           min_border_left=8, min_border_right=22, min_border_top=6, min_border_bottom=0)
p.outline_line_color = "#ccd6eb"
p.background_fill_color = "white"
p.border_fill_color = "white"

decades = [10.0 ** k for k in range(-9, -1)]
minors = [m * 10.0 ** k for k in range(-9, -2) for m in range(2, 10)]

ya = p.yaxis[0]
ya.ticker = FixedTicker(ticks=decades, minor_ticks=minors)
ya.formatter = CustomJSTickFormatter(code="return ''")
ya.major_label_text_font_size = "1px"
ya.major_label_standoff = 0
ya.major_tick_in = 5
ya.major_tick_out = 0
ya.minor_tick_in = 4
ya.minor_tick_out = 0
ya.major_tick_line_color = "#000000"
ya.minor_tick_line_color = "#999999"
ya.axis_line_color = "#888888"
p.ygrid.ticker = FixedTicker(ticks=decades)
p.ygrid.grid_line_color = "#e6e6e6"

# right-hand flare class letters, placed near mid-decade
class_ticks = [10.0 ** (lg + 0.46) for lg in class_floor_log10]
ra = LogAxis(ticker=FixedTicker(ticks=class_ticks, minor_ticks=[]),
             formatter=CustomJSTickFormatter(
                 args=dict(letters=class_letters, floors=class_floor_log10),
                 code="""
const lg = Math.log10(tick) - 0.46;
for (let i = 0; i < floors.length; i++) {
  if (Math.abs(lg - floors[i]) < 0.01) { return letters[i]; }
}
return "";
"""))
ra.axis_line_color = None
ra.major_tick_line_color = None
ra.minor_tick_line_color = None
ra.major_label_standoff = 3
ra.major_label_text_font = "DejaVu Sans Mono"
ra.major_label_text_font_size = "13px"
ra.major_label_text_color = "#000000"
p.add_layout(ra, "right")

tick_hours = list(range(0, 169, 3))
overrides = {}
for h in tick_hours:
    if h == 0:
        overrides[h] = ""
    elif h % 24 == 0:
        overrides[h] = day_labels[h // 24 - 1]
    elif h % 24 == 12:
        overrides[h] = noon_label
    else:
        overrides[h] = ""
xa = p.xaxis[0]
xa.ticker = FixedTicker(ticks=tick_hours)
xa.major_label_overrides = overrides
xa.major_label_standoff = -13
xa.major_label_text_font = "DejaVu Sans"
xa.major_label_text_font_size = "12px"
xa.major_label_text_color = "#666666"
xa.major_tick_in = 4
xa.major_tick_out = 0
xa.major_tick_line_color = "#777777"
xa.minor_tick_line_color = None
xa.axis_line_color = "#ccd6eb"
p.xgrid.ticker = FixedTicker(ticks=[24, 48, 72, 96, 120, 144])
p.xgrid.grid_line_color = "#6e6e6e"

p.add_layout(Title(text=updated_text, align="left", text_font="Liberation Sans",
                   text_font_size="11px", text_font_style="bold", text_color="#333333",
                   standoff=0, offset=0), "below")

for pairs, col in [(long_secondary, "#ff0000"), (long_primary, "#ff9900"),
                   (short_secondary, "#0a2aff"), (short_primary, "#5200b0")]:
    t, f = split(pairs)
    p.line(t, f, line_color=col, line_width=2)

p.add_layout(Label(x=0, y=1e-9, y_offset=5, text=first_label, text_baseline="middle",
                   text_align="left", text_font="DejaVu Sans", text_font_size="12px",
                   text_color="#666666"))

btn_html = ""
lefts = [44, 79, 114, 149]
for i, b in enumerate(zoom_buttons):
    sel = (i == len(zoom_buttons) - 1)
    bg = "#e6ebf5" if sel else "#f7f7f7"
    fw = "bold" if sel else "normal"
    btn_html += ('<span style="position:absolute;left:%dpx;top:5px;width:34px;height:24px;'
                 'line-height:24px;text-align:center;background:%s;font-weight:%s;'
                 'font-size:10px;color:#333;font-family:\'DejaVu Sans\';">%s</span>' % (lefts[i], bg, fw, b))
html = ('<div style="position:relative;width:400px;height:30px;">'
        '<span style="position:absolute;left:5px;top:7px;font-size:13px;color:#666;'
        'font-family:\'DejaVu Sans\';">Zoom</span>' + btn_html + '</div>')
div = Div(text=html, width=400, height=30)

layout = column(div, p)
open("out.html", "w").write(file_html(layout, INLINE))
